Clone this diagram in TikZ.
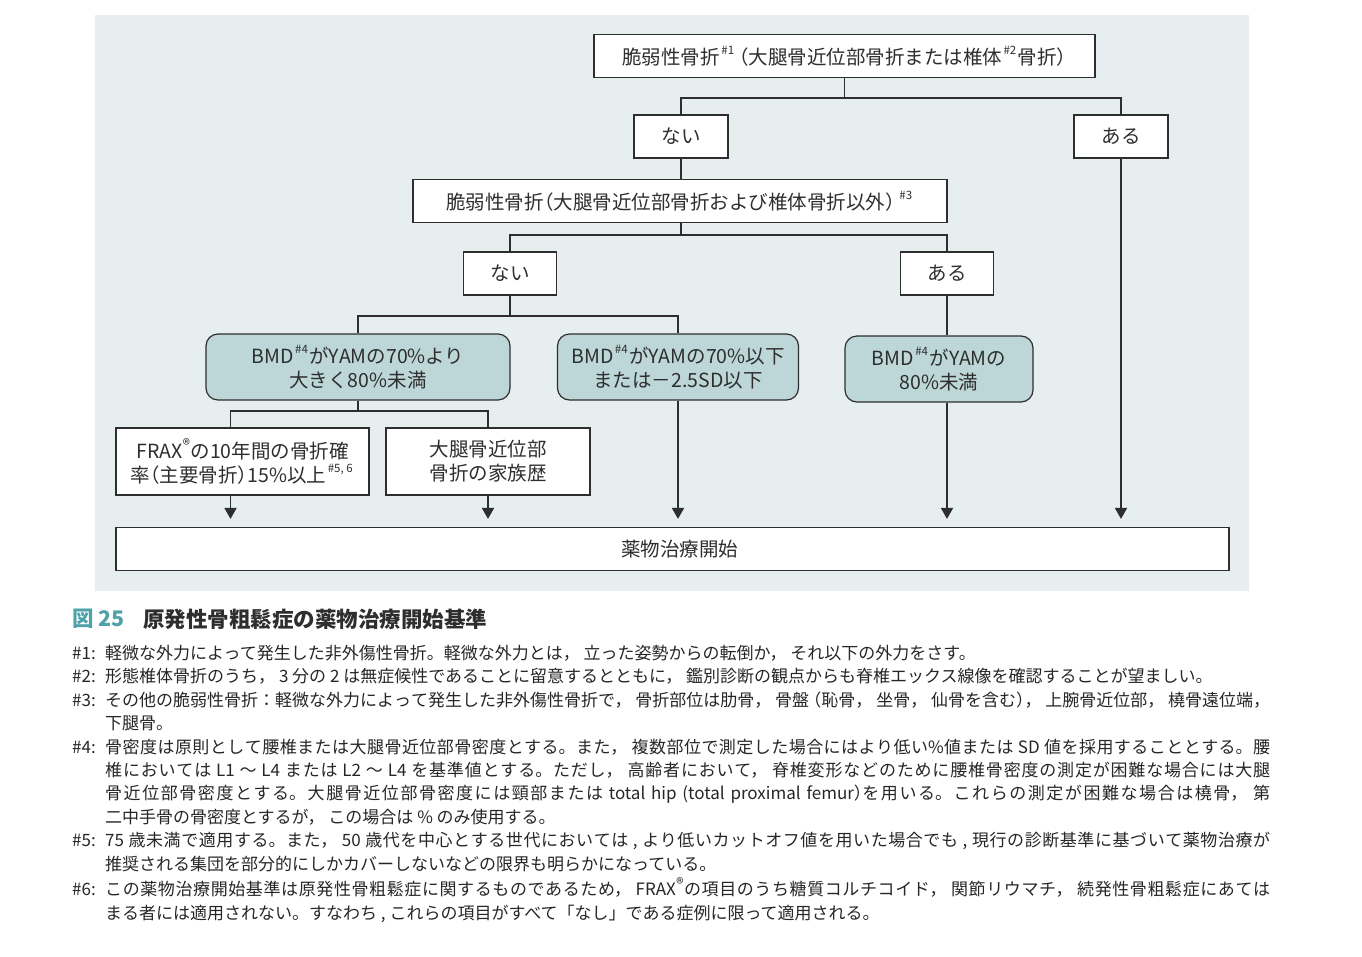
\documentclass[tikz,border=0pt]{standalone}
\usepackage{fontspec}
\setmainfont{Noto Sans CJK JP}
\usetikzlibrary{arrows.meta}
\XeTeXlinebreaklocale "ja"
\XeTeXlinebreakskip=0pt plus 1.5pt
\definecolor{panel}{HTML}{E6EEEF}
\definecolor{tealbox}{HTML}{BDD6D7}
\definecolor{ink}{HTML}{2E2E2E}
\definecolor{figno}{HTML}{4FA2A7}
\newcommand{\fnref}[1]{\kern1.5pt\raisebox{0.5em}{\fontsize{11.5}{11.5}\selectfont #1}\kern1.5pt}
\newcommand{\regmark}[1]{\kern0.5pt\raisebox{0.38em}{\fontsize{#1}{#1}\selectfont ®}\kern0.5pt}
\newcommand{\lpar}{{\addfontfeature{RawFeature=+halt}（}}
\newcommand{\rpar}{{\addfontfeature{RawFeature=+halt}）}}
\newcommand{\jline}[1]{\parbox[t]{1165pt}{\parfillskip=0pt #1\par}}
\begin{document}
\begin{tikzpicture}[x=1pt,y=-1pt]
\tikzstyle{every node}+=[inner sep=0pt, text=ink]
\tikzstyle{sqbox}=[draw=ink, line width=1.2pt, fill=white, minimum height=43pt, align=center, font=\fontsize{19.5}{24}\selectfont]
\tikzstyle{rbox}=[sqbox, fill=tealbox, rounded corners=12pt, minimum height=66pt]
\tikzstyle{conn}=[draw=ink, line width=1.8pt]
\tikzstyle{arr}=[conn, -{Triangle[width=12pt,length=11pt]}, shorten >=8pt]
\useasboundingbox (0,0) rectangle (1362,956);
\fill[panel] (95,15) rectangle (1249,591);
\node[sqbox, minimum width=501pt] (frac) at (844.5,56) {脆弱性骨折\fnref{\#1}\kern3pt\lpar 大腿骨近位部骨折または椎体\fnref{\#2}骨折\rpar};
\node[sqbox, minimum width=94pt] (nai1) at (681,136.5) {ない};
\node[sqbox, minimum width=94pt] (aru1) at (1121,136.5) {ある};
\node[sqbox, minimum width=534pt] (other) at (680,201) {脆弱性骨折\lpar 大腿骨近位部骨折および椎体骨折以外\rpar\kern3pt\fnref{\#3}};
\node[sqbox, minimum width=93pt] (nai2) at (510,273.5) {ない};
\node[sqbox, minimum width=93pt] (aru2) at (947,273.5) {ある};
\node[rbox, minimum width=304pt] (bmdA) at (358,367) {BMD\fnref{\#4}がYAMの70\%より\\大きく80\%未満};
\node[rbox, minimum width=241pt] (bmdB) at (678,367) {BMD\fnref{\#4}がYAMの70\%以下\\または－2.5SD以下};
\node[rbox, minimum width=188pt] (bmdC) at (939,369) {BMD\fnref{\#4}がYAMの\\80\%未満};
\node[sqbox, minimum width=253pt, minimum height=67pt] (frax) at (242.5,461.5) {FRAX\regmark{15}の10年間の骨折確\\率\lpar 主要骨折\rpar 15\%以上\fnref{\#5, 6}};
\node[sqbox, minimum width=204pt, minimum height=67pt] (famhist) at (488,461.5) {大腿骨近位部\\骨折の家族歴};
\node[sqbox, minimum width=1113pt] (start) at (672.5,549) {\hspace*{14pt}薬物治療開始};
\coordinate (j1) at (844.5,98);
\coordinate (j2) at (681,235);
\coordinate (j3) at (510,316);
\coordinate (j4) at (358,411);
\draw[conn] (frac) -- (j1);
\draw[conn] (nai1) |- (j1) -| (aru1);
\draw[conn] (nai1) -- (nai1 |- other.north);
\draw[conn] (other.south -| nai1) -- (j2);
\draw[conn] (nai2) |- (j2) -| (aru2);
\draw[conn] (nai2) -- (j3);
\draw[conn] (bmdA) |- (j3) -| (bmdB);
\draw[conn] (aru2) -- (aru2 |- bmdC.north);
\draw[conn] (bmdA) -- (j4);
\draw[conn] ([xshift=-12pt]frax.north) |- (j4) -| (famhist);
\draw[arr] ([xshift=-12pt]frax.south) -- ([xshift=-12pt]frax.south |- start.north);
\draw[arr] (famhist) -- (famhist |- start.north);
\draw[arr] (bmdB) -- (bmdB |- start.north);
\draw[arr] (aru2 |- bmdC.south) -- (aru2 |- start.north);
\draw[arr] (aru1) -- (aru1 |- start.north);
\node[anchor=west, text=figno, font=\fontsize{21.5}{24}\selectfont\bfseries] (figlabel) at (72,619) {図 25};
\node[anchor=west, font=\fontsize{21.5}{24}\selectfont\bfseries] (figtitle) at (143,619) {原発性骨粗鬆症の薬物治療開始基準};
\node[anchor=north west, text=black!85, font=\fontsize{17}{23.4}\selectfont] (notes) at (72,643) {%
\begin{tabular}{@{}p{33pt}@{}l@{}}
\#1: & 軽微な外力によって発生した非外傷性骨折。軽微な外力とは， 立った姿勢からの転倒か， それ以下の外力をさす。\\
\#2: & 形態椎体骨折のうち， 3 分の 2 は無症候性であることに留意するとともに， 鑑別診断の観点からも脊椎エックス線像を確認することが望ましい。\\
\#3: & \jline{その他の脆弱性骨折：軽微な外力によって発生した非外傷性骨折で， 骨折部位は肋骨， 骨盤 \lpar 恥骨， 坐骨， 仙骨を含む\rpar ， 上腕骨近位部， 橈骨遠位端，}\\
 & 下腿骨。\\
\#4: & \jline{骨密度は原則として腰椎または大腿骨近位部骨密度とする。また， 複数部位で測定した場合にはより低い\%値または SD 値を採用することとする。腰}\\
 & \jline{椎においては L1 ～ L4 または L2 ～ L4 を基準値とする。ただし， 高齢者において， 脊椎変形などのために腰椎骨密度の測定が困難な場合には大腿}\\
 & \jline{骨近位部骨密度とする。大腿骨近位部骨密度には頸部または total hip (total proximal femur\rpar を用いる。これらの測定が困難な場合は橈骨， 第}\\
 & 二中手骨の骨密度とするが， この場合は \% のみ使用する。\\
\#5: & \jline{75 歳未満で適用する。また， 50 歳代を中心とする世代においては , より低いカットオフ値を用いた場合でも , 現行の診断基準に基づいて薬物治療が}\\
 & 推奨される集団を部分的にしかカバーしないなどの限界も明らかになっている。\\
\#6: & \jline{この薬物治療開始基準は原発性骨粗鬆症に関するものであるため， FRAX\regmark{15} の項目のうち糖質コルチコイド， 関節リウマチ， 続発性骨粗鬆症にあては}\\
 & まる者には適用されない。すなわち , これらの項目がすべて「なし」である症例に限って適用される。
\end{tabular}};
\end{tikzpicture}
\end{document}
